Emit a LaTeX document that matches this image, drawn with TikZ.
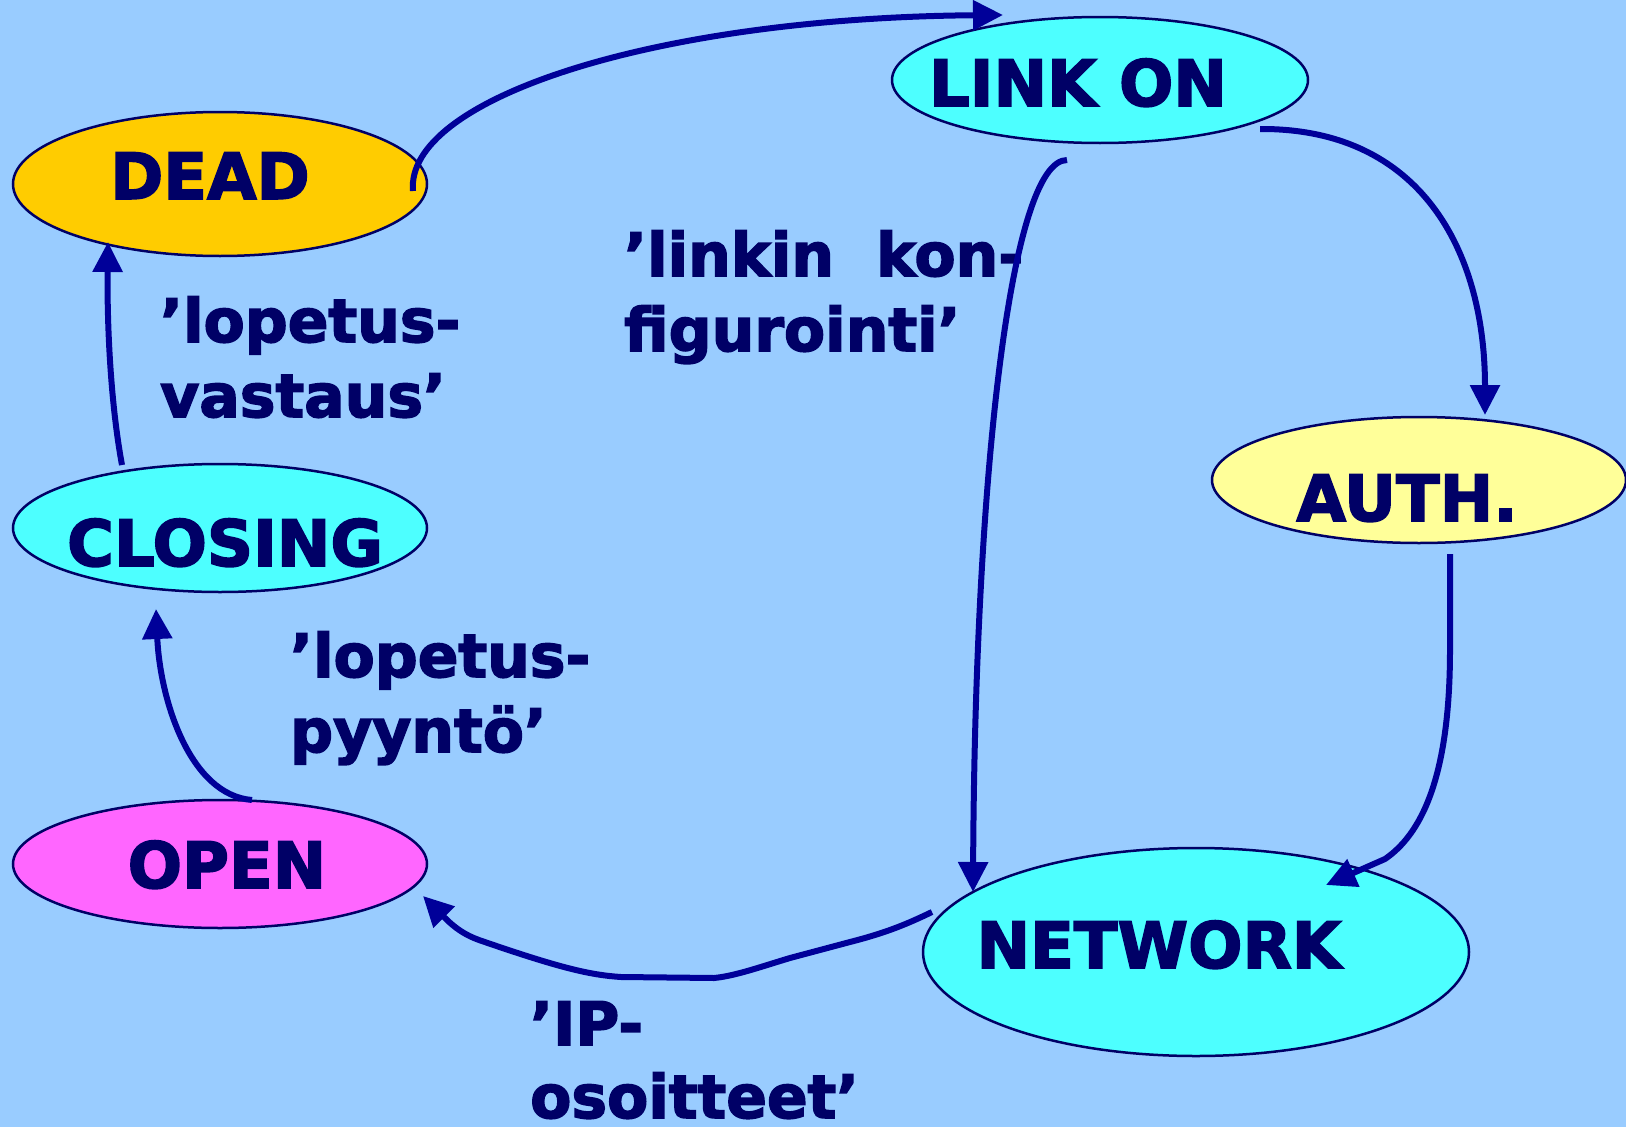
\documentclass[tikz,border=0pt]{standalone}
\usepackage{fontspec}
\setmainfont{DejaVu Sans}[BoldFeatures={FakeBold=2.5}]
\usetikzlibrary{shapes.geometric,arrows.meta}
\definecolor{bg}{HTML}{99CCFF}
\definecolor{ink}{HTML}{000066}
\definecolor{arr}{HTML}{000099}
\definecolor{cdead}{HTML}{FFCC00}
\definecolor{ccyan}{HTML}{4DFFFF}
\definecolor{cauth}{HTML}{FFFF99}
\definecolor{copen}{HTML}{FF66FF}
\begin{document}
\begin{tikzpicture}[x=1pt,y=-1pt,
  state/.style={ellipse, draw=ink, line width=2.5pt, inner sep=0pt},
  stxt/.style={anchor=base, text=ink, font=\fontsize{64}{76}\selectfont\bfseries, inner sep=0pt},
  lbl/.style={anchor=base west, text=ink, font=\fontsize{60}{75}\selectfont\bfseries, inner sep=0pt},
  conn/.style={draw=arr, line width=6pt, -{Triangle[width=29pt,length=30pt]}}]
\fill[bg] (0,0) rectangle (1626,1127);
\useasboundingbox (0,0) rectangle (1626,1127);

% states
\node[state, fill=cdead, minimum width=414pt, minimum height=144pt] (dead) at (220,184) {};
\node[state, fill=ccyan, minimum width=416pt, minimum height=126pt] (linkon) at (1100,80) {};
\node[state, fill=cauth, minimum width=414pt, minimum height=126pt] (auth) at (1419,480) {};
\node[state, fill=ccyan, minimum width=414pt, minimum height=128pt] (closing) at (220,528) {};
\node[state, fill=copen, minimum width=414pt, minimum height=128pt] (open) at (220,864) {};
\node[state, fill=ccyan, minimum width=546pt, minimum height=208pt] (network) at (1196,952) {};

\node[stxt] (deadt) at (210,199) {DEAD};
\node[stxt] (linkont) at (1078,106) {LINK ON};
\node[stxt] (autht) at (1407,521) {AUTH.};
\node[stxt] (closingt) at (225,566) {CLOSING};
\node[stxt] (opent) at (227,888) {OPEN};
\node[stxt] (networkt) at (1159,968) {NETWORK};

% labels
\node[lbl] (la1) at (160,342) {’lopetus-};
\node[lbl] (la2) at (160,417) {vastaus’};
\node[lbl] (lb1) at (624,276) {’linkin\hspace{0.7em}kon-};
\node[lbl] (lb2) at (624,351) {figurointi’};
\node[lbl] (lc1) at (290,677) {’lopetus-};
\node[lbl] (lc2) at (290,752) {pyyntö’};
\node[lbl] (ld1) at (530,1045) {’IP-};
\node[lbl] (ld2) at (530,1118) {osoitteet’};

% connector end points
\coordinate (s1) at (413,191); \coordinate (e1) at (1003,15);
\coordinate (s2) at (1260,129); \coordinate (e2) at (1485,415);
\coordinate (s3) at (1067,160); \coordinate (e3) at (973,892);
\coordinate (s4) at (1450,554); \coordinate (e4) at (1326,885);
\coordinate (s5) at (932,912); \coordinate (e5) at (423,896);
\coordinate (s6) at (252,800); \coordinate (e6) at (156,609);
\coordinate (s7) at (122,465); \coordinate (e7) at (108,242);

\draw[conn] (s1) .. controls (405,100) and (650,18) .. (e1);
\draw[conn] (s2) .. controls (1420,128) and (1485,250) .. (e2);
\draw[conn] (s3) .. controls (1010,160) and (975,480) .. (e3);
\draw[conn] (s4) -- (1450,650) .. controls (1450,780) and (1420,835) .. (1385,859) -- (e4);
\draw[conn] (s5) .. controls (905,925) and (885,933) .. (850,942) -- (790,958)
  .. controls (760,967) and (735,976) .. (714,978) -- (621,977)
  .. controls (590,975) and (560,968) .. (479,940)
  .. controls (465,935) and (455,928) .. (445,918) -- (e5);
\draw[conn] (s6) .. controls (190,795) and (160,700) .. (e6);
\draw[conn] (s7) .. controls (110,400) and (107,320) .. (e7);
\end{tikzpicture}
\end{document}
